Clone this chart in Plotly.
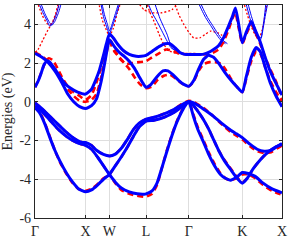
import plotly.graph_objects as go

# k-path distance (arbitrary units, Gamma-X = 51)
KTICK_VALS = [0, 51, 75, 112, 155, 209, 249]
KTICK_TEXT = ["Γ", "X", "W", "L", "Γ", "K", "X"]
E_TICKS = [-6, -4, -2, 0, 2, 4]
E_TICK_TEXT = ["-6", "-4", "-2", "0", "2", "4"]

# ---------- thick blue bands ----------
VB1_k = [0, 5, 10, 15, 20, 25, 32, 38, 44, 51, 57, 63, 69, 75, 81, 87, 93, 99, 105, 112,
         120, 130, 140, 148, 155, 159, 163, 169, 175, 180, 185, 191, 198, 203, 209,
         214, 220, 227, 235, 242, 249]
VB1_E = [-0.3, -0.6, -1.15, -1.85, -2.5, -3.05, -3.7, -4.15, -4.5, -4.65, -4.55, -4.3, -4.0, -3.75,
         -3.3, -2.85, -2.35, -1.8, -1.3, -1.0,
         -0.95, -0.8, -0.55, -0.25, 0.0, -0.15, -0.4, -0.85, -1.4, -1.95, -2.5, -3.05, -3.55, -3.9, -4.2,
         -3.95, -3.45, -3.0, -2.6, -2.35, -2.2]

VB2_k = [0, 7, 15, 23, 32, 38, 44, 48, 51, 57, 63, 69, 75, 81, 87, 95, 103, 110, 112,
         118, 123, 128, 133, 138, 143, 148, 152, 155, 157, 160, 164, 170, 175, 181, 187, 192, 197, 203, 209,
         215, 222, 230, 239, 249]
VB2_E = [-0.2, -0.5, -0.95, -1.4, -1.8, -2.0, -2.15, -2.2, -2.25, -2.45, -2.85, -3.3, -3.75,
         -4.15, -4.45, -4.65, -4.75, -4.77, -4.75,
         -4.6, -4.2, -3.4, -2.55, -1.75, -1.05, -0.5, -0.15, 0.0, -0.25, -0.8, -1.4, -2.1, -2.7, -3.3,
         -3.75, -3.95, -4.05, -3.9, -3.65,
         -3.7, -3.85, -4.2, -4.5, -4.7]

VB3_k = [0, 7, 15, 23, 30, 37, 43, 48, 51, 57, 62, 69, 75, 81, 87, 93, 99, 105, 112,
         120, 130, 140, 148, 155, 160, 165, 172, 180, 188, 197, 203, 209,
         217, 224, 231, 238, 244, 249]
VB3_E = [-0.05, -0.35, -0.75, -1.15, -1.5, -1.8, -2.0, -2.1, -2.1, -2.25, -2.5, -2.72, -2.8,
         -2.7, -2.4, -1.95, -1.45, -1.1, -0.9,
         -0.8, -0.62, -0.4, -0.15, 0.0, -0.05, -0.2, -0.45, -0.75, -1.1, -1.45, -1.65, -1.85,
         -2.2, -2.45, -2.55, -2.5, -2.3, -2.15]

CB1_k = [0, 7, 13, 20, 27, 33, 39, 45, 51, 57, 62, 66, 69, 72, 75,
         80, 85, 90, 95, 100, 105, 109, 112,
         117, 123, 129, 134, 139, 145, 150, 155,
         160, 165, 170, 175, 180, 185, 191, 197, 203, 209,
         213, 218, 223, 227, 232, 237, 243, 249]
CB1_E = [2.5, 2.3, 2.05, 1.6, 1.0, 0.4, 0.0, -0.25, -0.35, -0.2, 0.15, 0.9, 1.65, 2.5, 3.2,
         2.85, 2.55, 2.35, 2.1, 1.75, 1.3, 0.95, 0.75,
         0.9, 1.3, 1.6, 1.6, 1.4, 1.1, 0.9, 0.8,
         1.1, 1.7, 2.2, 2.4, 2.3, 2.0, 1.55, 1.15, 0.8, 0.5,
         1.3, 2.3, 2.8, 2.6, 1.8, 1.0, 0.3, -0.25]

CB2_k = [0, 3, 6, 9, 12, 15, 20, 25, 30, 36, 43, 51, 57, 61, 65, 69, 72, 75,
         79, 83, 89, 95, 102, 107, 112,
         118, 125, 131, 136, 141, 146, 151, 155,
         162, 169, 175, 180, 185, 190, 195, 199, 202, 205, 209,
         213, 218, 222, 227, 232, 237, 243, 249]
CB2_E = [0.75, 1.05, 1.45, 1.9, 2.1, 2.05, 1.7, 1.3, 0.95, 0.7, 0.5, 0.4, 0.65, 1.1, 1.65, 2.4, 3.0, 3.5,
         3.3, 3.0, 2.65, 2.45, 2.35, 2.35, 2.4,
         2.6, 2.85, 3.0, 3.0, 2.8, 2.55, 2.45, 2.45,
         2.45, 2.45, 2.55, 2.7, 2.9, 3.3, 3.9, 4.4, 4.85, 4.1, 3.05,
         3.6, 4.15, 3.7, 3.1, 2.3, 1.6, 0.95, 0.35]

# ---------- red dashed bands ----------
rVB1_k = VB1_k
rVB1_E = [-0.3, -0.55, -1.1, -1.8, -2.5, -3.1, -3.75, -4.2, -4.5, -4.6, -4.5, -4.25, -3.95, -3.75,
          -3.3, -2.85, -2.35, -1.8, -1.3, -1.0,
          -0.95, -0.8, -0.55, -0.25, 0.0, -0.15, -0.4, -0.85, -1.4, -1.95, -2.5, -3.0, -3.5, -3.85, -4.15,
          -3.95, -3.45, -3.0, -2.6, -2.35, -2.2]
rVB2_k = VB2_k
rVB2_E = [-0.2, -0.5, -0.95, -1.4, -1.8, -2.0, -2.15, -2.2, -2.25, -2.45, -2.85, -3.3, -3.75,
          -4.2, -4.55, -4.75, -4.85, -4.9, -4.9,
          -4.75, -4.3, -3.4, -2.5, -1.7, -1.0, -0.45, -0.1, 0.05, -0.2, -0.7, -1.3, -2.0, -2.6, -3.2,
          -3.7, -3.95, -4.05, -3.95, -3.75,
          -3.75, -3.95, -4.3, -4.6, -4.8]
rVB3_k = VB3_k
rVB3_E = [-0.05, -0.35, -0.75, -1.15, -1.5, -1.8, -2.0, -2.1, -2.1, -2.25, -2.5, -2.72, -2.8,
          -2.7, -2.4, -1.95, -1.45, -1.1, -0.9,
          -0.8, -0.62, -0.4, -0.1, 0.05, 0.0, -0.15, -0.4, -0.75, -1.15, -1.55, -1.75, -1.95,
          -2.3, -2.55, -2.65, -2.6, -2.4, -2.25]

rCB1_k = [0, 7, 13, 20, 27, 33, 39, 45, 51, 57, 62, 66, 69, 72, 75,
          80, 85, 90, 95, 100, 106, 112,
          118, 124, 130, 136, 142, 148, 155,
          160, 165, 170, 176, 182, 188, 193, 198, 203, 209,
          213, 218, 223, 227, 232, 237, 243, 249]
rCB1_E = [2.55, 2.35, 2.1, 1.7, 1.15, 0.65, 0.3, 0.05, 0.0, 0.1, 0.4, 1.1, 1.8, 2.5, 3.1,
          2.6, 2.3, 2.0, 1.7, 1.3, 0.9, 0.7,
          0.8, 1.15, 1.35, 1.4, 1.2, 0.95, 0.8,
          1.05, 1.6, 1.95, 2.05, 2.05, 1.95, 1.6, 1.15, 0.8, 0.5,
          1.2, 2.1, 2.6, 2.5, 1.8, 1.1, 0.5, 0.0]
rCB2_k = [0, 4, 8, 11, 14, 18, 23, 28, 33, 39, 45, 51, 57, 61, 65, 69, 72, 75,
          80, 86, 92, 98, 105, 112,
          118, 125, 132, 138, 145, 155,
          162, 170, 178, 185, 190, 195, 199, 202, 205, 209,
          213, 218, 222, 227, 232, 237, 243, 249]
rCB2_E = [0.75, 1.2, 1.75, 2.1, 2.25, 2.15, 1.7, 1.2, 0.8, 0.5, 0.3, 0.1, 0.35, 0.85, 1.5, 2.3, 2.9, 3.3,
          2.7, 2.2, 1.95, 2.0, 2.05, 2.1,
          2.3, 2.5, 2.7, 2.65, 2.5, 2.45,
          2.45, 2.45, 2.5, 2.7, 3.1, 3.7, 4.3, 4.6, 3.9, 3.0,
          3.5, 4.0, 3.6, 3.0, 2.3, 1.7, 1.05, 0.15]

# ---------- thin blue (higher bands) ----------
TA1_k = [3, 8, 12, 15, 18, 22, 25]
TA1_E = [5.2, 4.6, 4.2, 3.9, 4.1, 4.6, 5.2]
TA2_k = [5, 10, 14, 17, 20, 24, 27]
TA2_E = [5.2, 4.55, 4.15, 3.95, 4.15, 4.65, 5.2]
TB1_k = [66, 69, 72, 75, 78, 82, 86]
TB1_E = [5.2, 4.4, 3.9, 3.5, 3.9, 4.5, 5.2]
TB2_k = [67, 70, 73, 75, 78, 81, 85]
TB2_E = [5.2, 4.5, 4.0, 3.65, 4.05, 4.55, 5.2]
TC1_k = [113, 118, 123, 130, 137, 143, 150, 155]
TC1_E = [5.2, 4.6, 4.15, 3.45, 2.8, 2.6, 2.5, 2.45]
TC2_k = [120, 126, 133, 138, 145, 155]
TC2_E = [5.2, 4.3, 3.5, 2.8, 2.55, 2.45]
TD1_k = [164, 168, 172, 177, 182, 187, 192]
TD1_E = [5.2, 4.75, 4.35, 3.95, 3.55, 3.2, 3.0]
TD2_k = [166, 170, 174, 179, 184, 189, 194]
TD2_E = [5.2, 4.75, 4.35, 3.95, 3.55, 3.2, 3.0]
TE1_k = [212, 216, 220, 224, 227, 229, 231, 233]
TE1_E = [5.2, 4.45, 3.75, 3.3, 3.15, 3.6, 4.3, 5.2]
TE2_k = [214, 218, 222, 225, 228, 230, 232, 235]
TE2_E = [5.2, 4.45, 3.8, 3.4, 3.3, 3.8, 4.4, 5.2]

# ---------- red dotted (higher bands) ----------
RA_k = [0, 3, 8, 13, 18, 21, 24]
RA_E = [2.55, 2.7, 3.2, 3.7, 4.15, 4.6, 5.2]
RA2_k = [2, 7, 12, 15, 19, 23, 25]
RA2_E = [5.2, 4.5, 4.05, 3.95, 4.2, 4.8, 5.2]
RB_k = [64, 68, 72, 75, 79, 83, 87]
RB_E = [5.2, 4.2, 3.7, 3.4, 3.8, 4.6, 5.2]
RC_k = [103, 110, 118, 128, 138, 146]
RC_E = [5.2, 4.75, 4.6, 4.6, 4.75, 5.2]
RD_k = [112, 116, 120, 125, 130, 135, 142, 150, 155, 162]
RD_E = [5.2, 4.6, 4.15, 3.5, 2.95, 2.65, 2.5, 2.5, 2.5, 2.5]
RE_k = [140, 145, 150, 155, 160, 166, 172, 177, 185, 192]
RE_E = [5.2, 4.5, 4.0, 3.6, 3.3, 3.3, 3.5, 3.65, 3.55, 3.3]
RF_k = [210, 214, 218, 222, 226, 229, 232, 234]
RF_E = [5.2, 4.5, 3.9, 3.45, 3.3, 3.7, 4.5, 5.2]

BLUE = "#0000ff"
RED = "#ff0000"
SERIF = "Liberation Serif"

fig = go.Figure()

def add(k, e, color, width, dash):
    fig.add_trace(go.Scatter(x=k, y=e, mode="lines", hoverinfo="skip",
                             line=dict(color=color, width=width, dash=dash,
                                       shape="spline", smoothing=0.5)))

for k, e in [(RA_k, RA_E), (RA2_k, RA2_E), (RB_k, RB_E), (RC_k, RC_E),
             (RD_k, RD_E), (RE_k, RE_E), (RF_k, RF_E)]:
    add(k, e, RED, 1.3, "2px,2px")
for k, e in [(TA1_k, TA1_E), (TA2_k, TA2_E), (TB1_k, TB1_E), (TB2_k, TB2_E),
             (TC1_k, TC1_E), (TC2_k, TC2_E), (TD1_k, TD1_E), (TD2_k, TD2_E),
             (TE1_k, TE1_E), (TE2_k, TE2_E)]:
    add(k, e, BLUE, 1.0, "solid")
for k, e in [(rVB1_k, rVB1_E), (rVB2_k, rVB2_E), (rVB3_k, rVB3_E),
             (rCB1_k, rCB1_E), (rCB2_k, rCB2_E)]:
    add(k, e, RED, 2.6, "6px,4px")
for k, e in [(VB1_k, VB1_E), (VB2_k, VB2_E), (VB3_k, VB3_E),
             (CB1_k, CB1_E), (CB2_k, CB2_E)]:
    add(k, e, BLUE, 3.0, "solid")

axis_common = dict(
    showline=True, linecolor="#262626", linewidth=1.3, mirror="ticks",
    ticks="inside", ticklen=3, tickcolor="#262626",
    showgrid=True, gridcolor="#dedede", gridwidth=1, zeroline=False,
    tickfont=dict(family=SERIF, size=14, color="#262626"),
)

fig.update_xaxes(range=[0, 249], tickvals=KTICK_VALS, ticktext=KTICK_TEXT, **axis_common)
fig.update_yaxes(range=[-6, 5], tickvals=E_TICKS, ticktext=E_TICK_TEXT,
                 title=dict(text="Energies (eV)", standoff=5,
                            font=dict(family=SERIF, size=14, color="#262626")),
                 **axis_common)

fig.update_layout(
    width=291, height=243, showlegend=False,
    margin=dict(l=35, r=7, t=4, b=21),
    paper_bgcolor="white", plot_bgcolor="white",
)

fig.write_html("out.html", config={"displayModeBar": False},
               post_script="document.body.style.margin='0px';document.body.style.overflow='hidden';")
